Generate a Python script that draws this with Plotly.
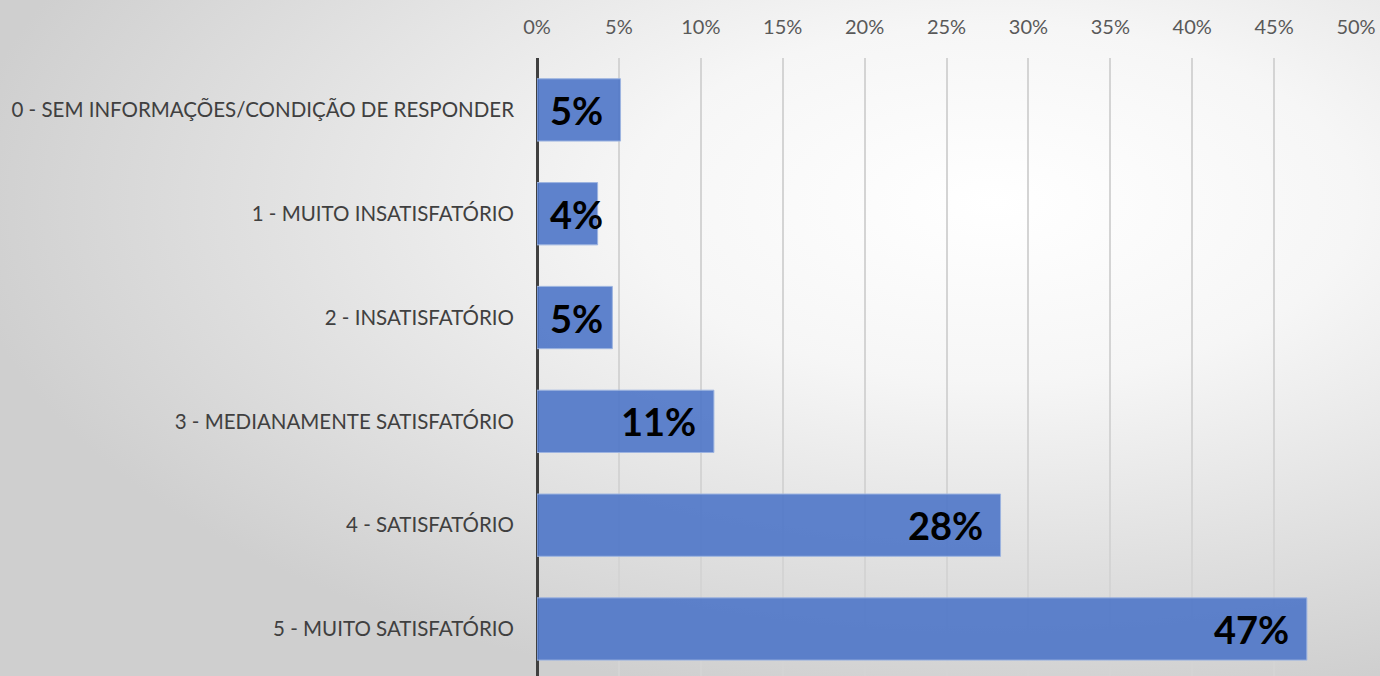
import base64
import plotly.graph_objects as go

categories = [
    "0 - SEM INFORMAÇÕES/CONDIÇÃO DE RESPONDER",
    "1 - MUITO INSATISFATÓRIO",
    "2 - INSATISFATÓRIO",
    "3 - MEDIANAMENTE SATISFATÓRIO",
    "4 - SATISFATÓRIO",
    "5 - MUITO SATISFATÓRIO",
]
shares = [0.051, 0.037, 0.046, 0.108, 0.283, 0.470]
tick_values = [i * 0.05 for i in range(11)]
tick_labels = [f"{i * 5}%" for i in range(11)]

X_MAX = 0.5
PLOT_W = 1380 - 537 - 24
PX = X_MAX / PLOT_W  # data units per pixel

# soft radial backdrop
svg = """<svg xmlns='http://www.w3.org/2000/svg' width='1380' height='676'>
<defs><radialGradient id='g' cx='0.72' cy='0.3' r='0.75'>
<stop offset='0' stop-color='#ffffff'/>
<stop offset='0.35' stop-color='#f6f6f6'/>
<stop offset='1' stop-color='#cfcfcf'/>
</radialGradient></defs>
<rect width='1380' height='676' fill='url(#g)'/></svg>"""
bg_uri = "data:image/svg+xml;base64," + base64.b64encode(svg.encode()).decode()

fig = go.Figure(
    go.Bar(
        x=shares,
        y=categories,
        orientation="h",
        marker=dict(color="rgba(78,118,200,0.9)", line=dict(color="#9db4e0", width=1)),
        width=0.6,
        hovertemplate="%{y}: %{x:.0%}<extra></extra>",
    )
)

# value labels: right-aligned inside the bar end, kept clear of the axis for short bars
for cat, v in zip(categories, shares):
    label = f"{v:.0%}"
    right = max(v - 16 * PX, (16 + 26 * len(label)) * PX)
    fig.add_annotation(
        x=right, y=cat, xref="x", yref="y", text=label, showarrow=False,
        xanchor="right", yanchor="middle",
        font=dict(family="Lato", size=38, color="#000000", weight="bold"),
    )

fig.update_layout(
    width=1380,
    height=676,
    margin=dict(l=537, r=24, t=58, b=0),
    paper_bgcolor="#e0e0e0",
    plot_bgcolor="rgba(0,0,0,0)",
    showlegend=False,
    images=[dict(source=bg_uri, xref="paper", yref="paper", x=-537 / PLOT_W, y=1 + 58 / 618,
                 sizex=1380 / PLOT_W, sizey=676 / 618, sizing="stretch", layer="below",
                 xanchor="left", yanchor="top")],
    xaxis=dict(
        side="top",
        range=[0, X_MAX],
        tickvals=tick_values,
        ticktext=tick_labels,
        showgrid=True,
        gridcolor="#d4d4d4",
        gridwidth=1.5,
        zeroline=True,
        zerolinecolor="#404040",
        zerolinewidth=3,
        showline=False,
        ticklabelstandoff=19,
        tickfont=dict(family="Lato", size=20, color="#595959"),
    ),
    yaxis=dict(
        categoryorder="array",
        categoryarray=categories,
        range=[5.453, -0.5],
        showgrid=False,
        showline=False,
        ticks="",
        ticklabelstandoff=22,
        tickfont=dict(family="Lato", size=20.5, color="#404040"),
    ),
)

fig.write_html("out.html")
